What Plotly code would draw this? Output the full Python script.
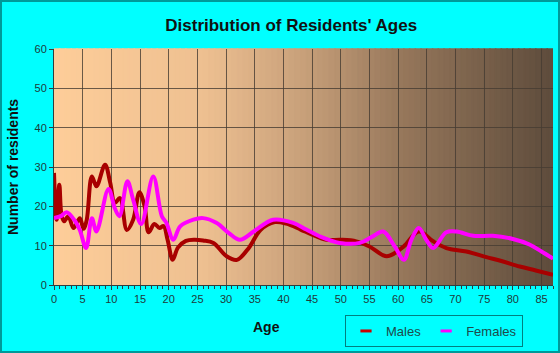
import plotly.graph_objects as go

# ---------------- data ----------------
male_ages = [0, 0.45, 0.93, 1.3, 1.75, 2.5, 3.4, 4.5, 5.15, 5.7, 6.6, 7.4, 8.9, 9.8, 10.6, 11.5,
             12.7, 13.8, 14.9, 15.8, 16.5, 17.5, 18.4, 19.1, 19.8, 20.7, 21.6, 23, 24.5, 26,
             27.8, 30.1, 31.9, 34, 36, 38.5, 40.5, 43, 45, 47.5, 50, 52.7, 55, 58, 60.9,
             63.6, 66.1, 68.4, 71.9, 75.4, 78, 81.2, 84, 87]
male_vals = [28.5, 16.6, 25.5, 17.9, 16.2, 17.5, 14.5, 17.0, 14.3, 16.5, 27.6, 25.1, 30.6, 26.0,
             20.9, 22.1, 14.0, 16.6, 23.6, 20.0, 13.4, 15.5, 14.5, 15.0, 11.5, 6.4, 9.5, 11.2,
             11.5, 11.3, 10.7, 7.3, 6.4, 9.5, 14.0, 16.0, 15.6, 14.1, 12.8, 11.5, 11.5, 11.1,
             9.8, 7.3, 9.7, 13.6, 11.1, 9.4, 8.5, 7.1, 6.1, 4.7, 3.7, 2.6]

female_ages = [0, 1.2, 2.2, 3.7, 4.5, 5.6, 6.6, 7.4, 9.5, 10.6, 11.4, 12.8, 13.8, 15.2, 17.3,
               18.8, 19.6, 20.8, 22, 24.3, 26, 28.3, 30.5, 32.4, 35, 38.2, 41.7, 44, 46.3,
               49.8, 53.3, 55.5, 57.4, 59.4, 61, 62.3, 63.6, 64.9, 66.1, 68.4, 70.2, 73.1,
               76.5, 80, 82.9, 85, 87]
female_vals = [17.0, 17.5, 18.5, 16.2, 14.0, 9.4, 17.0, 13.6, 24.4, 19.5, 17.5, 26.4, 21.7, 15.5,
               27.6, 17.5, 15.8, 11.5, 14.9, 16.6, 17.0, 15.8, 13.2, 11.5, 13.8, 16.6, 15.8,
               14.1, 12.4, 10.7, 10.7, 12.3, 13.6, 9.8, 6.4, 11.5, 14.5, 11.5, 9.4, 13.4, 13.6,
               12.5, 12.5, 11.7, 10.3, 8.5, 6.7]

x_ticks = list(range(0, 86, 5))
y_ticks = list(range(0, 61, 10))

MALE_COLOR = "#A80000"
FEMALE_COLOR = "#FF00FF"

# ---------------- figure ----------------
fig = go.Figure()

fig.add_trace(go.Scatter(x=male_ages, y=male_vals, mode="lines", name="Males",
                         line=dict(color=MALE_COLOR, width=4, shape="spline", smoothing=1.0),
                         showlegend=False))
fig.add_trace(go.Scatter(x=female_ages, y=female_vals, mode="lines", name="Females",
                         line=dict(color=FEMALE_COLOR, width=4, shape="spline", smoothing=1.0),
                         showlegend=False))
# legend entries (short line samples)
fig.add_trace(go.Scatter(x=[None], y=[None], mode="markers", name="Males",
                         marker=dict(symbol="line-ew", size=8,
                                     line=dict(color="#CC0000", width=3))))
fig.add_trace(go.Scatter(x=[None], y=[None], mode="markers", name="Females",
                         marker=dict(symbol="line-ew", size=8,
                                     line=dict(color=FEMALE_COLOR, width=3))))

# gradient background (decoration)
stops = [(0.0, (254, 205, 153)), (0.3, (238, 192, 145)), (0.5, (200, 160, 122)),
         (0.7, (150, 119, 91)), (1.0, (94, 76, 60))]


def grad(t):
    for (t0, c0), (t1, c1) in zip(stops[:-1], stops[1:]):
        if t <= t1:
            f = (t - t0) / (t1 - t0)
            return tuple(round(a + (b - a) * f) for a, b in zip(c0, c1))
    return stops[-1][1]


XMAX = 87
N = 87
shapes = []
for i in range(N):
    a = XMAX * i / N
    b = XMAX * (i + 1) / N
    r, g, bb = grad((i + 0.5) / N)
    col = f"rgb({r},{g},{bb})"
    shapes.append(dict(type="rect", xref="x", yref="paper", x0=a, x1=b, y0=0, y1=1,
                       fillcolor=col, line=dict(width=1.5, color=col), layer="below"))

W, H = 560, 353
ML, MR, MT, MB = 54, 7, 49, 68
PW, PH = W - ML - MR, H - MT - MB
# outer frame
shapes.append(dict(type="rect", xref="paper", yref="paper",
                   x0=-(ML - 1) / PW, x1=1 + (MR - 1) / PW,
                   y0=-(MB - 1) / PH, y1=1 + (MT - 1) / PH,
                   line=dict(color="#009999", width=2), fillcolor="rgba(0,0,0,0)", layer="above"))

tick_font = dict(family="Liberation Sans, Arial, sans-serif", size=11, color="#1E3A3A")

fig.update_layout(
    width=W, height=H,
    margin=dict(l=ML, r=MR, t=MT, b=MB, autoexpand=False),
    paper_bgcolor="#00FFFF",
    plot_bgcolor="rgba(0,0,0,0)",
    title=dict(text="<b>Distribution of Residents' Ages</b>", x=0.52, xanchor="center",
               y=1 - 25 / H, yanchor="middle",
               font=dict(family="Liberation Sans, Arial, sans-serif", size=17, color="#111111")),
    shapes=shapes,
    showlegend=True,
    legend=dict(orientation="h", xref="container", yref="container",
                x=523 / W, xanchor="right", y=1 - 315 / H, yanchor="top",
                bgcolor="#00FFFF", bordercolor="#008080", borderwidth=1,
                font=dict(family="Liberation Sans, Arial, sans-serif", size=13, color="#1E4A4A"),
                itemwidth=30, tracegroupgap=0),
    annotations=[
        dict(text="<b>Age</b>", xref="paper", yref="paper", x=(266 - ML) / PW,
             y=-(327 - 285) / PH, xanchor="center", yanchor="middle", showarrow=False,
             font=dict(family="Liberation Sans, Arial, sans-serif", size=14, color="#111111")),
        dict(text="<b>Number of residents</b>", xref="paper", yref="paper",
             x=-(ML - 13) / PW, y=(285 - 167) / PH, xanchor="center", yanchor="middle",
             textangle=-90, showarrow=False,
             font=dict(family="Liberation Sans, Arial, sans-serif", size=14, color="#111111")),
    ],
)

fig.update_xaxes(range=[0, XMAX], tickmode="array", tickvals=x_ticks,
                 ticktext=[str(v) for v in x_ticks], tickfont=tick_font,
                 showgrid=True, gridcolor="rgba(70,60,50,0.8)", gridwidth=1,
                 showline=True, linecolor="#2F3F3F", linewidth=1, mirror=False,
                 ticks="outside", ticklen=4, tickcolor="#2F3F3F",
                 minor=dict(dtick=1, tick0=0, ticks="outside", ticklen=3, tickcolor="#2F3F3F",
                            showgrid=False),
                 zeroline=False, fixedrange=True, automargin=False)
fig.update_yaxes(range=[0, 60], tickmode="array", tickvals=y_ticks,
                 ticktext=[str(v) for v in y_ticks], tickfont=tick_font,
                 showgrid=True, gridcolor="rgba(70,60,50,0.8)", gridwidth=1,
                 showline=True, linecolor="#2F3F3F", linewidth=1,
                 ticks="outside", ticklen=4, tickcolor="#2F3F3F",
                 zeroline=False, fixedrange=True, automargin=False)

fig.write_html("out.html")
